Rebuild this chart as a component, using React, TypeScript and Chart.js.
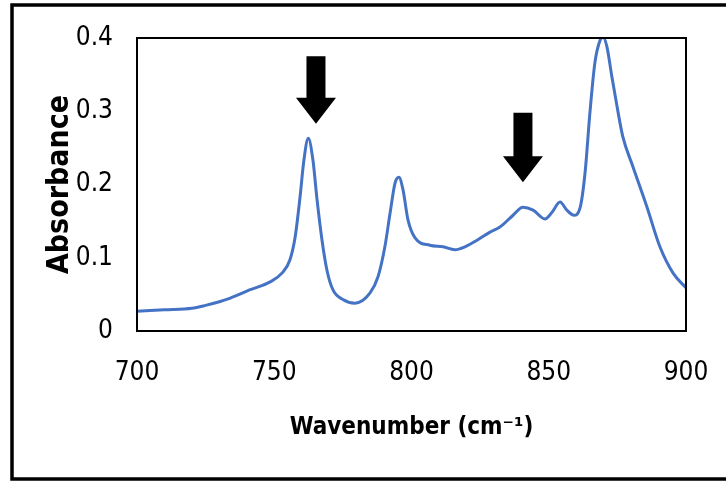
import React, { useEffect, useRef } from "react";
import { Chart, registerables } from "chart.js";

Chart.register(...registerables);

const waveNumbers = [
  700, 710, 720, 725, 730, 734, 741, 748.5, 752.8, 755.7, 757.6, 759.4, 760.8, 762.4,
  764.1, 765.6, 767.4, 769.2, 771.4, 775, 779.4, 784.9, 787.8, 790.3, 792.2, 794.0,
  795.4, 796.9, 798.7, 801.3, 806.7, 811.5, 815.8, 819.5, 823.9, 828.6, 832.2, 837.0,
  840.6, 844.3, 848.6, 851.2, 854.1, 856.6, 859.2, 861.4, 863.2, 865.0, 866.8, 868.7,
  869.8, 871.2, 873.0, 874.9, 877.0, 880.7, 885.8, 890.5, 895.3, 900,
];
const absorbance = [
  0.027, 0.029, 0.031, 0.035, 0.04, 0.045, 0.056, 0.067, 0.079, 0.097, 0.128, 0.183, 0.233, 0.263,
  0.233, 0.179, 0.124, 0.083, 0.056, 0.043, 0.038, 0.052, 0.074, 0.115, 0.161, 0.202,
  0.21, 0.193, 0.152, 0.127, 0.117, 0.115, 0.111, 0.115, 0.124, 0.135, 0.142, 0.158,
  0.169, 0.165, 0.153, 0.162, 0.176, 0.165, 0.158, 0.168, 0.215, 0.298, 0.366, 0.397,
  0.401, 0.388, 0.347, 0.306, 0.265, 0.224, 0.169, 0.115, 0.079, 0.059,
];

// annotation arrows (data coordinates)
const arrowX = [765.2, 840.6];
const arrowTopY = [0.375, 0.298];
const arrowTipY = [0.283, 0.203];

const xTicks = [700, 750, 800, 850, 900];
const yTicks = [0, 0.1, 0.2, 0.3, 0.4];

const xTitle = "Wavenumber (cm\u207B\u00B9)";
const yTitle = "Absorbance";

const FONT = "'Liberation Sans Narrow', 'DejaVu Sans Condensed', 'Liberation Sans', sans-serif";

export default function App() {
  const ref = useRef<HTMLCanvasElement | null>(null);
  useEffect(() => {
    if (!ref.current) return;
    const framePlugin = {
      id: "frame",
      afterDraw(chart: any) {
        const { ctx, chartArea } = chart;
        ctx.save();
        ctx.strokeStyle = "#000";
        ctx.lineWidth = 2;
        ctx.strokeRect(chartArea.left, chartArea.top, chartArea.right - chartArea.left, chartArea.bottom - chartArea.top);
        ctx.lineWidth = 3.5;
        ctx.strokeRect(12, 5, 730, 474);
        const xs = chart.scales.x;
        const ys = chart.scales.y;
        ctx.fillStyle = "#000";
        for (let i = 0; i < arrowX.length; i++) {
          const cx = xs.getPixelForValue(arrowX[i]);
          const top = ys.getPixelForValue(arrowTopY[i]);
          const tip = ys.getPixelForValue(arrowTipY[i]);
          const headLen = 26;
          const shaftHalf = 9.5;
          const headHalf = 20;
          ctx.beginPath();
          ctx.moveTo(cx - shaftHalf, top);
          ctx.lineTo(cx + shaftHalf, top);
          ctx.lineTo(cx + shaftHalf, tip - headLen);
          ctx.lineTo(cx + headHalf, tip - headLen);
          ctx.lineTo(cx, tip);
          ctx.lineTo(cx - headHalf, tip - headLen);
          ctx.lineTo(cx - shaftHalf, tip - headLen);
          ctx.closePath();
          ctx.fill();
        }
        ctx.restore();
      },
    };
    const chart = new Chart(ref.current, {
      type: "line",
      data: {
        datasets: [
          {
            data: waveNumbers.map((x, i) => ({ x, y: absorbance[i] })),
            borderColor: "#4472C4",
            borderWidth: 3,
            pointRadius: 0,
            fill: false,
            cubicInterpolationMode: "monotone",
          },
        ],
      },
      options: {
        responsive: false,
        animation: false,
        devicePixelRatio: 1,
        layout: { autoPadding: false, padding: { left: 0, right: 40, top: 38, bottom: 0 } },
        plugins: { legend: { display: false }, tooltip: { enabled: false } },
        scales: {
          x: {
            type: "linear",
            min: 700,
            max: 900,
            afterFit: (s: any) => {
              s.height = 152;
              s.paddingLeft = 0;
              s.paddingRight = 0;
              s.paddingTop = 0;
              s.paddingBottom = 0;
            },
            afterBuildTicks: (s: any) => { s.ticks = xTicks.map((v) => ({ value: v })); },
            grid: { display: false, drawTicks: false },
            border: { display: false },
            ticks: { color: "#000", padding: 27, font: { family: FONT, size: 26 } },
            title: {
              display: true,
              text: xTitle,
              color: "#000",
              font: { family: FONT, size: 24, weight: "bold" },
              padding: { bottom: 41, top: 0 },
            },
          },
          y: {
            min: 0,
            max: 0.4,
            afterFit: (s: any) => {
              s.width = 137;
              s.paddingLeft = 0;
              s.paddingRight = 0;
              s.paddingTop = 0;
              s.paddingBottom = 0;
            },
            afterBuildTicks: (s: any) => { s.ticks = yTicks.map((v) => ({ value: v })); },
            grid: { display: false, drawTicks: false },
            border: { display: false },
            ticks: {
              color: "#000",
              padding: 24,
              font: { family: FONT, size: 26 },
              callback: (v: any) => (Number(v) === 0 ? "0" : Number(v).toFixed(1)),
            },
            title: {
              display: true,
              text: yTitle,
              color: "#000",
              font: { family: FONT, size: 30, weight: "bold" },
              padding: { top: 42, bottom: 0 },
            },
          },
        },
      },
      plugins: [framePlugin],
    } as any);
    return () => chart.destroy();
  }, []);
  return (
    <div style={{ position: "absolute", left: 0, top: 0, width: 726, height: 483, background: "#fff" }}>
      <canvas ref={ref} width={726} height={483} style={{ display: "block" }} />
    </div>
  );
}
